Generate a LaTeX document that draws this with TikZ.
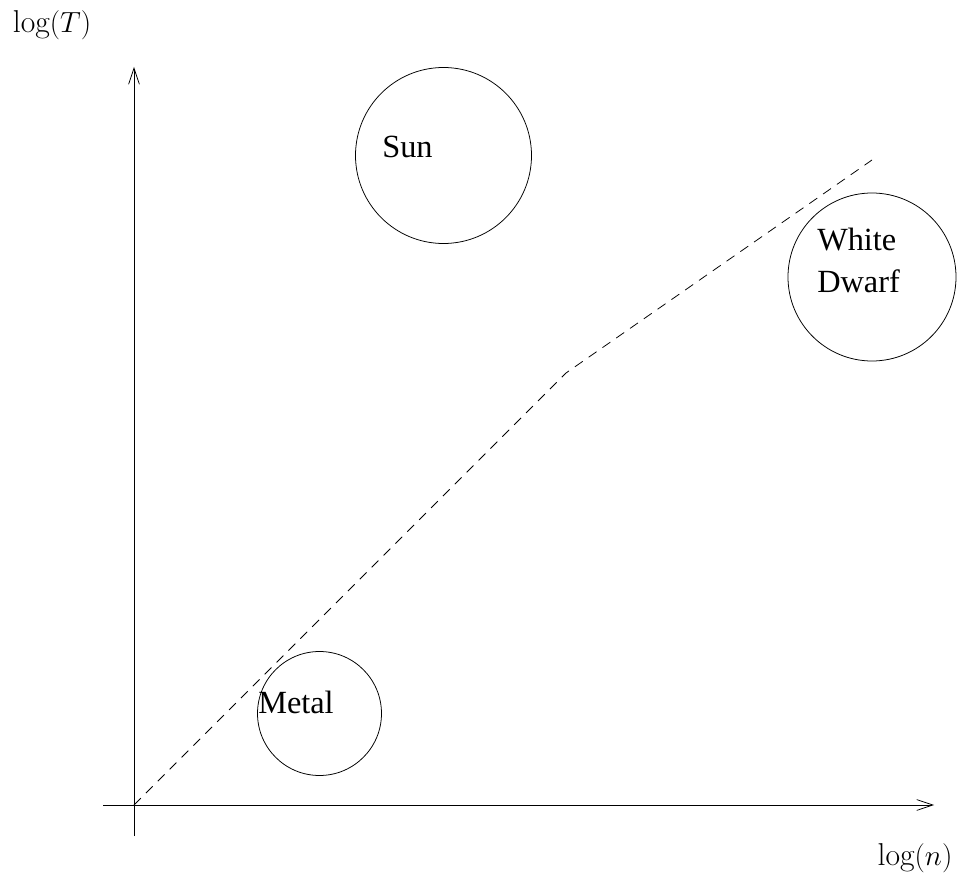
\documentclass[tikz,border=0pt]{standalone}
\usepackage{fontspec}
\newfontfamily\figfont{Liberation Serif}
\usetikzlibrary{arrows.meta}

\begin{document}
\begin{tikzpicture}[x=0.025cm,y=-0.025cm,
 axis/.style={-{Straight Barb[length=0.4cm,width=0.27cm]},line width=0.55pt},
 track/.style={line width=0.55pt,dash pattern=on 0.24cm off 0.18cm},
 blob/.style={circle,draw,line width=0.55pt,inner sep=0pt},
 tag/.style={anchor=base west,inner sep=0pt,font=\figfont\fontsize{23}{30.5}\selectfont},
 axlabel/.style={anchor=base,inner sep=0pt,font=\fontsize{22.5}{26}\selectfont}]
\useasboundingbox (0,0) rectangle (969,879);

\coordinate (o) at (134,805);
\coordinate (xs) at (103,805);
\coordinate (xe) at (934,805);
\coordinate (ys) at (134,836);
\coordinate (ye) at (134,67);
\draw[axis] (xs)--(xe);
\draw[axis] (ys)--(ye);

\node[axlabel] (tlabel) at (52,33) {$\log(T)$};
\node[axlabel] (nlabel) at (915,865) {$\log(n)$};

\node[blob,minimum size=176*0.025cm] (sun) at (443.5,155.5) {};
\node[blob,minimum size=168*0.025cm] (dwarf) at (872,277) {};
\node[blob,minimum size=124*0.025cm] (metal) at (319.5,713.5) {};

\node[tag] (sunt) at (382,158) {Sun};
\node[tag,align=left] (dwarft) at (817,293) {White\\Dwarf};
\node[tag] (metalt) at (258,713) {Metal};

\coordinate (bend) at (566,373);
\coordinate (top) at (872,160);
\draw[track] (o)--(bend)--(top);
\end{tikzpicture}
\end{document}
